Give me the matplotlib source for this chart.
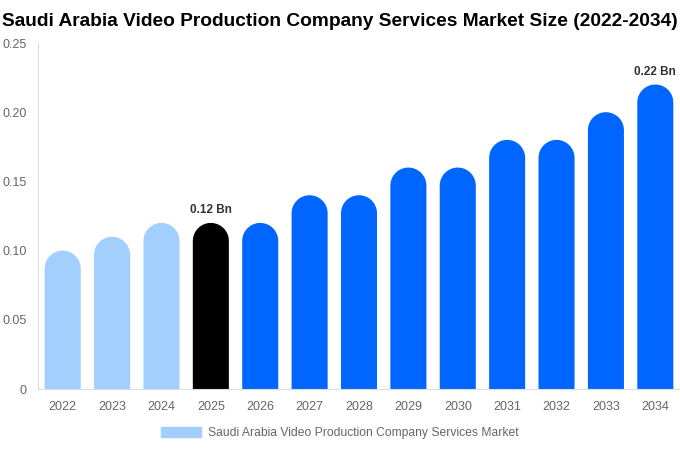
import numpy as np
import matplotlib
matplotlib.use("Agg")
import matplotlib.pyplot as plt
from matplotlib.patches import Polygon, Patch

plt.rcParams['font.family'] = ['Liberation Sans', 'DejaVu Sans']

years = ['2022', '2023', '2024', '2025', '2026', '2027', '2028',
         '2029', '2030', '2031', '2032', '2033', '2034']
values = [0.10, 0.11, 0.12, 0.12, 0.12, 0.14, 0.14, 0.16, 0.16, 0.18, 0.18, 0.20, 0.22]
colors = ['#a3cfff'] * 3 + ['#000000'] + ['#0066ff'] * 9
labels = {3: '0.12 Bn', 12: '0.22 Bn'}
legend_name = 'Saudi Arabia Video Production Company Services Market'

W, H = 680, 450
fig = plt.figure(figsize=(W / 100, H / 100), dpi=100)
ax_l, ax_r, ax_t, ax_b = 38, 680, 43, 389
ax = fig.add_axes([ax_l / W, (H - ax_b) / H, (ax_r - ax_l) / W, (ax_b - ax_t) / H])
ax.set_xlim(-0.5, len(years) - 0.5)
ax.set_ylim(0, 0.25)

bw = 0.73
# rounded cap: radius = half bar width in pixels, converted to data units
px_per_x = (ax_r - ax_l) / len(years)
px_per_y = (ax_b - ax_t) / 0.25
r_px = bw * px_per_x / 2
ry = r_px / px_per_y

t = np.linspace(0, np.pi, 40)
for i, v in enumerate(values):
    cap_x = i + np.cos(t) * bw / 2
    cap_y = v - ry + np.sin(t) * ry
    xs = np.concatenate([[i + bw / 2], cap_x, [i - bw / 2]])
    ys = np.concatenate([[0], cap_y, [0]])
    ax.add_patch(Polygon(np.column_stack([xs, ys]), closed=True,
                         facecolor=colors[i], edgecolor='none'))
    if i in labels:
        ax.text(i, v + 0.0048, labels[i], ha='center', va='bottom',
                fontsize=8.5, fontweight='bold', color='#333333')

ax.set_xticks(range(len(years)))
ax.set_xticklabels(years)
ax.set_yticks([0, 0.05, 0.10, 0.15, 0.20, 0.25])
ax.set_yticklabels(['0', '0.05', '0.10', '0.15', '0.20', '0.25'])
ax.tick_params(length=0, labelsize=9, colors='#666666')
ax.tick_params(axis='x', pad=9)
ax.tick_params(axis='y', pad=8)
for s in ['top', 'right']:
    ax.spines[s].set_visible(False)
for s in ['left', 'bottom']:
    ax.spines[s].set_color('#dddddd')
    ax.spines[s].set_linewidth(0.8)

fig.text(0.5, 1 - 21 / H, 'Saudi Arabia Video Production Company Services Market Size (2022-2034)',
         ha='center', va='center', fontsize=13.75, fontweight='bold', color='#000000')

fig.legend(handles=[Patch(color='#a3cfff', label=legend_name)], loc='center',
           bbox_to_anchor=(0.5, 1 - 433 / H), frameon=False, fontsize=8.7,
           labelcolor='#666666', handlelength=3.3, handleheight=0.9, handletextpad=0.6)

fig.savefig('out.png', dpi=100)
